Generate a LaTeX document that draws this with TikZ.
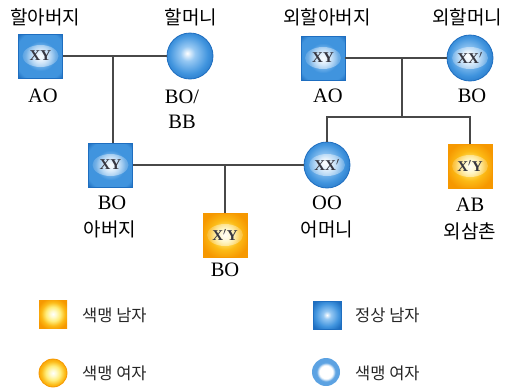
\documentclass[tikz,border=0pt]{standalone}
\usepackage{fontspec}
\setmainfont{Liberation Serif}
\newfontfamily\kr{Noto Sans CJK KR}
\usetikzlibrary{fadings}

\definecolor{bluedark}{RGB}{30,110,192}
\definecolor{bluemid}{RGB}{64,148,222}
\definecolor{bluelight}{RGB}{150,200,243}
\definecolor{bluepale}{RGB}{215,235,252}
\definecolor{bluelegend}{RGB}{92,162,226}
\definecolor{orangedark}{RGB}{246,152,0}
\definecolor{orangemid}{RGB}{252,186,22}
\definecolor{yellowlight}{RGB}{255,236,120}
\definecolor{yellowpale}{RGB}{255,250,200}
\definecolor{linegray}{RGB}{72,72,72}
\definecolor{marktext}{RGB}{55,55,65}

% radial fills for the pedigree symbols (shape border sits near 35bp)
\pgfdeclareradialshading{normalmale}{\pgfpointorigin}{color(0bp)=(bluepale); color(7bp)=(bluelight); color(17bp)=(bluemid); color(29bp)=(bluemid); color(35bp)=(bluedark); color(50bp)=(bluedark)}
\pgfdeclareradialshading{carrierfemale}{\pgfpoint{-3bp}{3bp}}{color(0bp)=(white); color(8bp)=(bluelight); color(21bp)=(bluemid); color(32bp)=(bluedark); color(50bp)=(bluedark)}
\pgfdeclareradialshading{cbmale}{\pgfpointorigin}{color(0bp)=(yellowpale); color(7bp)=(yellowlight); color(17bp)=(orangemid); color(28bp)=(orangedark); color(50bp)=(orangedark)}
\pgfdeclareradialshading{cbglow}{\pgfpointorigin}{color(0bp)=(white); color(6bp)=(yellowpale); color(13bp)=(yellowlight); color(21bp)=(orangemid); color(29bp)=(orangedark); color(50bp)=(orangedark)}
\pgfdeclareradialshading{legendring}{\pgfpointorigin}{color(0bp)=(white); color(12bp)=(white); color(17bp)=(bluelegend); color(50bp)=(bluelegend)}
\pgfdeclareradialshading{legendbox}{\pgfpointorigin}{color(0bp)=(white); color(7bp)=(bluelight); color(21bp)=(bluemid); color(31bp)=(bluedark); color(50bp)=(bluedark)}

\tikzfading[name=glowfade, inner color=transparent!0, outer color=transparent!100]

\tikzset{
  x=1pt, y=-1pt,
  glowing/.style={path picture={\fill[white, opacity=0.85, path fading=glowfade]
      (path picture bounding box.center) ellipse [x radius=18, y radius=11];}},
  symtext/.style={font=\fontsize{15}{15}\selectfont\bfseries, text=marktext},
  nmale/.style={rectangle, minimum size=44pt, inner sep=0pt, shading=normalmale, draw=bluedark, line width=0.6pt, glowing, symtext},
  cmale/.style={rectangle, minimum size=44pt, inner sep=0pt, shading=cbmale, draw=orangedark, line width=0.6pt, glowing, symtext},
  cfemale/.style={circle, minimum size=46pt, inner sep=0pt, shading=carrierfemale, draw=bluedark, line width=0.8pt, symtext},
  gfemale/.style={cfemale, glowing},
  krlab/.style={font=\kr\fontsize{19}{19}\selectfont, inner sep=0pt},
  gene/.style={font=\fontsize{20.5}{20.5}\selectfont, inner sep=0pt},
  legtext/.style={font=\kr\fontsize{16.5}{16.5}\selectfont, text=black!85, anchor=west, inner sep=0pt},
  link/.style={draw=linegray, line width=1.6pt},
}

\begin{document}
\begin{tikzpicture}
\useasboundingbox (0,0) rectangle (506,391);

% paternal grandparents
\node[nmale] (gpa) at (40.5,56) {XY};
\node[cfemale] (gma) at (190,56) {};
\node[krlab] (gpaL) at (45,17) {할아버지};
\node[krlab] (gmaL) at (191,17) {할머니};
\node[gene] (gpaG) at (43,96) {AO};
\node[gene] (gmaG1) at (182,97) {BO/};
\node[gene] (gmaG2) at (182,122) {BB};

% maternal grandparents
\node[nmale] (mgpa) at (323,58) {XY};
\node[gfemale] (mgma) at (470,58) {XX$'$};
\node[krlab] (mgpaL) at (327,17) {외할아버지};
\node[krlab] (mgmaL) at (467,17) {외할머니};
\node[gene] (mgpaG) at (328,96) {AO};
\node[gene] (mgmaG) at (472,96) {BO};

% parents and uncle
\node[nmale] (fa) at (110.5,165) {XY};
\node[gfemale] (mo) at (327,165) {XX$'$};
\node[cmale] (un) at (470,166) {X$'$Y};
\node[gene] (faG) at (112,203) {BO};
\node[krlab] (faL) at (110,229) {아버지};
\node[gene] (moG) at (327,203) {OO};
\node[krlab] (moL) at (327,229) {어머니};
\node[gene] (unG) at (470,205) {AB};
\node[krlab] (unL) at (470,231) {외삼촌};

% child
\node[cmale] (ch) at (225,235) {X$'$Y};
\node[gene] (chG) at (225,270) {BO};

% connectors
\coordinate (m1) at (113,56);
\coordinate (m2) at (402,58);
\coordinate (m3) at (225,165);
\coordinate (sib) at (402,117);
\path[link] (gpa.east) -- (gma.west);
\path[link] (m1) -- (m1 |- fa.north);
\path[link] (mgpa.east) -- (mgma.west);
\path[link] (m2) -- (sib);
\path[link] (mo.north) -- (mo.north |- sib) -- (un.north |- sib) -- (un.north);
\path[link] (fa.east) -- (mo.west);
\path[link] (m3) -- (ch.north);

% legend
\node[rectangle, minimum size=28pt, inner sep=0pt, shading=cbglow] (k1) at (53,314) {};
\node[legtext] (k1t) at (82,315) {색맹 남자};
\node[rectangle, minimum size=28pt, inner sep=0pt, shading=legendbox, draw=bluedark, line width=0.6pt] (k2) at (327,315) {};
\node[legtext] (k2t) at (355,315) {정상 남자};
\node[circle, minimum size=28pt, inner sep=0pt, shading=cbglow, draw=orangedark, line width=0.8pt] (k3) at (53,373) {};
\node[legtext] (k3t) at (82,373) {색맹 여자};
\node[circle, minimum size=28pt, inner sep=0pt, shading=legendring] (k4) at (326,372) {};
\node[legtext] (k4t) at (355,373) {색맹 여자};
\end{tikzpicture}
\end{document}
